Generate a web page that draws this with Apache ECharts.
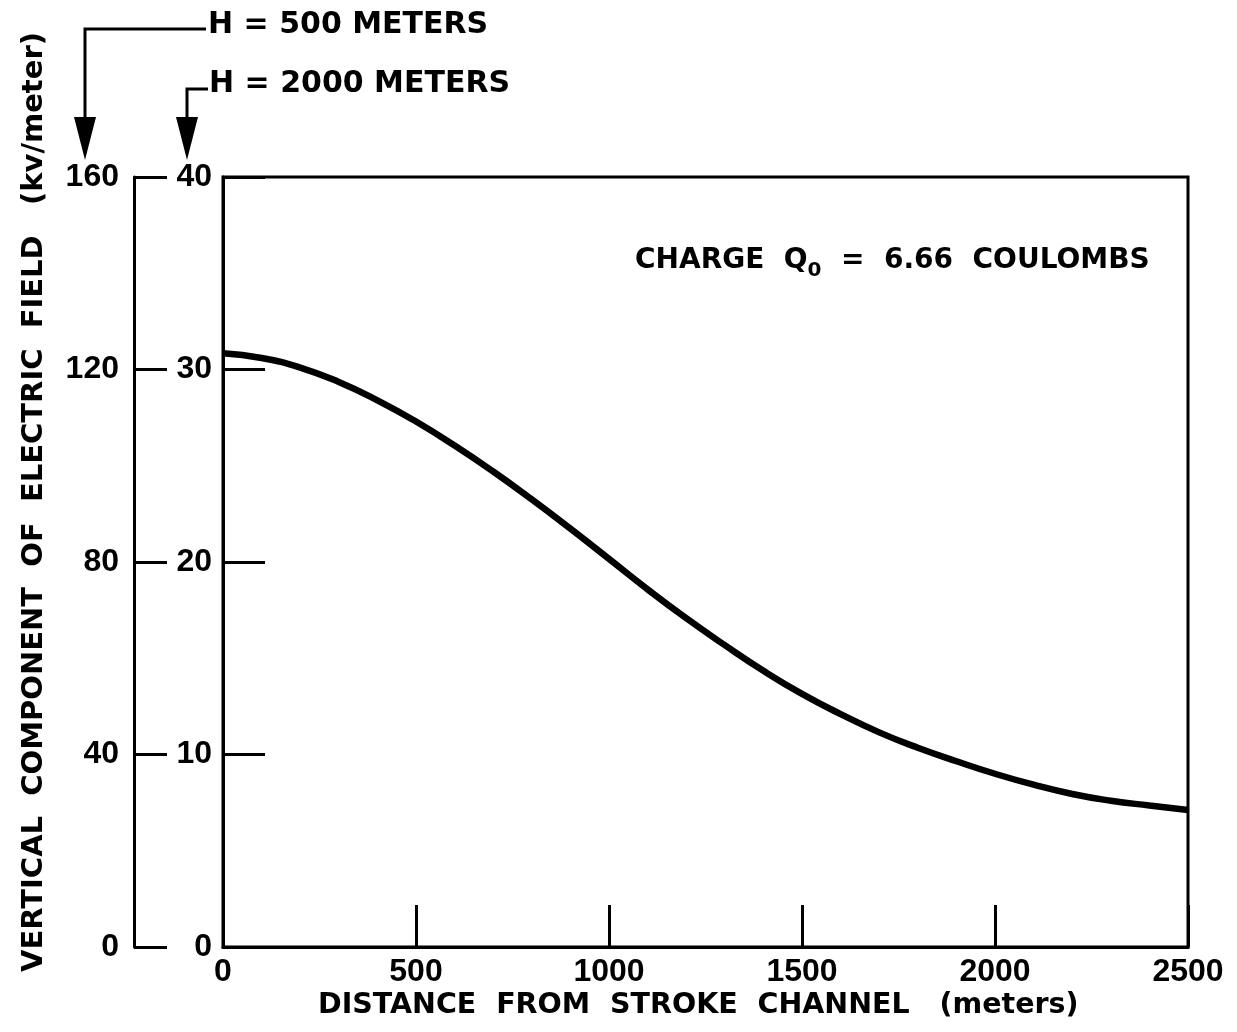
<!DOCTYPE html>
<html>
<head>
<meta charset="utf-8">
<script src="https://cdn.jsdelivr.net/npm/echarts@6/dist/echarts.min.js"></script>
<style>
html,body{margin:0;padding:0;background:#fff;}
#chart{width:1237px;height:1032px;}
</style>
</head>
<body>
<div id="chart"></div>
<script>
// Distance from stroke channel (meters)
const distance = [0,100,200,300,400,500,600,700,800,900,1000,1100,1200,1300,1400,1500,1600,1700,1800,1900,2000,2100,2200,2300,2400,2500];
// Vertical field (kv/meter) on the H = 2000 m scale (0-40)
const fieldH2000 = [30.85,30.6,30.1,29.35,28.4,27.3,26.05,24.7,23.25,21.73,20.16,18.58,17.08,15.68,14.35,13.15,12.1,11.15,10.35,9.65,9.0,8.43,7.95,7.6,7.35,7.12];
// Axis scales
const xTicks = {min:0, max:2500, interval:500};
const yInner = {min:0, max:40, interval:10};   // H = 2000 meters
const yOuter = {min:0, max:160, interval:40};  // H = 500 meters

const xTitle = 'DISTANCE  FROM  STROKE  CHANNEL   (meters)';
const yTitle = 'VERTICAL  COMPONENT  OF  ELECTRIC  FIELD   (kv/meter)';
const label500 = 'H = 500 METERS';
const label2000 = 'H = 2000 METERS';

const numFont = {fontFamily:'Liberation Sans', fontWeight:'bold', fontSize:32, color:'#000'};

const chart = echarts.init(document.getElementById('chart'), null, {renderer:'canvas'});
const lineBlack = {color:'#000', width:3};
const plain = v => String(v);

chart.setOption({
  backgroundColor:'#fff',
  animation:false,
  grid:{left:223, right:49, top:177, bottom:85, show:true, borderColor:'#000', borderWidth:3},
  xAxis:{
    type:'value', min:xTicks.min, max:xTicks.max, interval:xTicks.interval,
    axisLine:{show:true, lineStyle:lineBlack},
    axisTick:{show:true, inside:true, length:42, lineStyle:lineBlack},
    axisLabel:Object.assign({margin:9, formatter:plain}, numFont),
    splitLine:{show:false}
  },
  yAxis:[
    {
      type:'value', position:'left', min:yInner.min, max:yInner.max, interval:yInner.interval,
      axisLine:{show:true, lineStyle:lineBlack},
      axisTick:{show:true, inside:true, length:42, lineStyle:lineBlack},
      axisLabel:Object.assign({margin:11, formatter:plain}, numFont),
      splitLine:{show:false}
    },
    {
      type:'value', position:'left', offset:89, min:yOuter.min, max:yOuter.max, interval:yOuter.interval,
      axisLine:{show:true, lineStyle:lineBlack},
      axisTick:{show:true, inside:true, length:33, lineStyle:lineBlack},
      axisLabel:Object.assign({margin:15, formatter:plain}, numFont),
      splitLine:{show:false}
    }
  ],
  series:[{
    type:'line',
    xAxisIndex:0, yAxisIndex:0,
    data: distance.map((d,i)=>[d, fieldH2000[i]]),
    smooth:true,
    symbol:'none',
    lineStyle:{color:'#000', width:6.5}
  }],
  graphic:[
    {type:'text', left:318, top:991, style:{text:xTitle, font:'bold 28.5px "DejaVu Sans"', fill:'#000'}},
    {type:'text', x:20, y:972, rotation:Math.PI/2, style:{text:yTitle, font:'bold 29px "DejaVu Sans"', fill:'#000', textAlign:'left', textVerticalAlign:'top'}},
    {type:'text', left:635, top:247, style:{
      rich:{
        a:{font:'bold 28px "DejaVu Sans"', fill:'#000', lineHeight:40, verticalAlign:'middle'},
        s:{font:'bold 20px "DejaVu Sans"', fill:'#000', lineHeight:20, verticalAlign:'bottom'}
      },
      text:'{a|CHARGE  Q}{s|0}{a|  =  6.66  COULOMBS}'
    }},
    {type:'text', left:208, top:10, style:{text:label500, font:'bold 30px "DejaVu Sans"', fill:'#000'}},
    {type:'text', left:209, top:69, style:{text:label2000, font:'bold 30px "DejaVu Sans"', fill:'#000'}},
    {type:'polyline', shape:{points:[[206,29],[85,29],[85,125]]}, style:{stroke:'#000', lineWidth:3, fill:null}},
    {type:'polygon', shape:{points:[[74,117],[96,117],[85,160]]}, style:{fill:'#000'}},
    {type:'polyline', shape:{points:[[208,89],[187,89],[187,125]]}, style:{stroke:'#000', lineWidth:3, fill:null}},
    {type:'polygon', shape:{points:[[176,117],[198,117],[187,160]]}, style:{fill:'#000'}}
  ]
});
</script>
</body>
</html>
